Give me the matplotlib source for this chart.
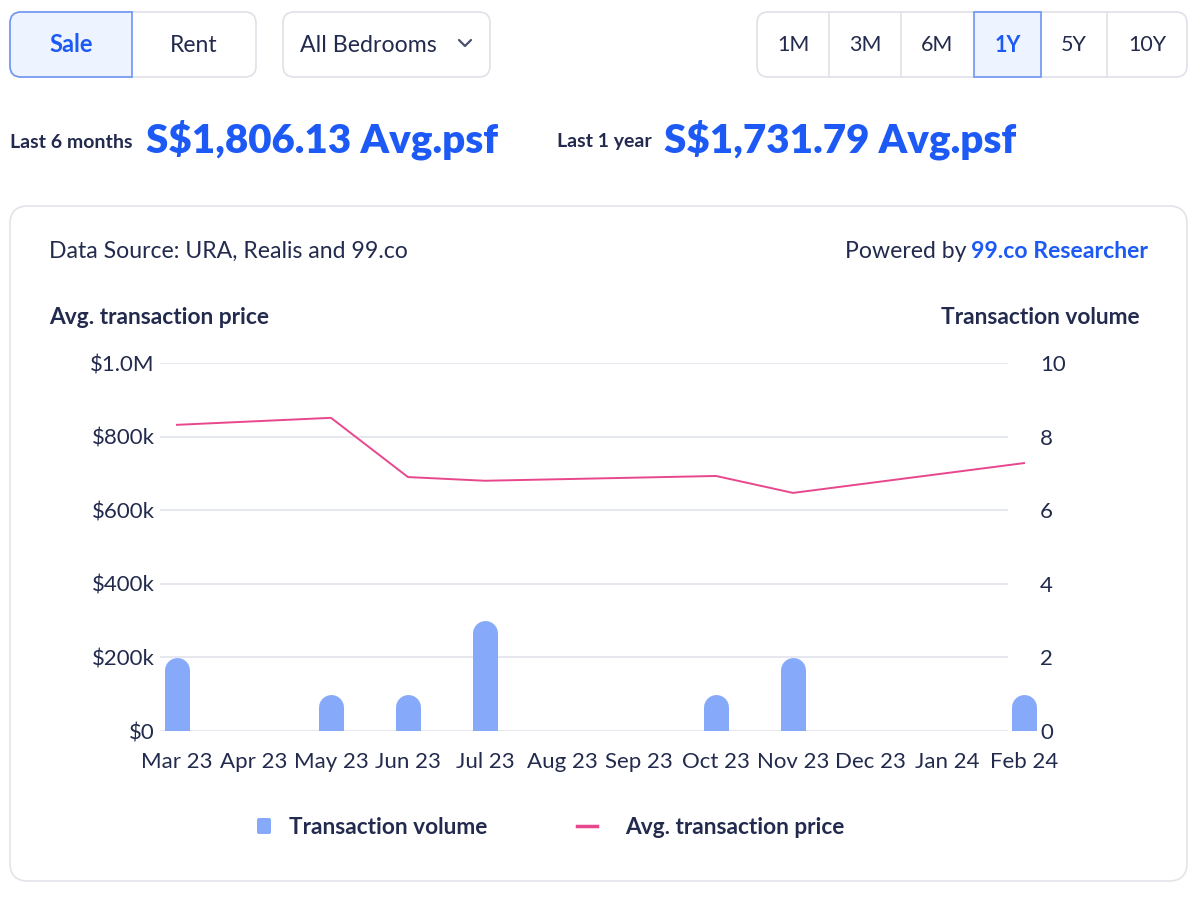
import numpy as np
import matplotlib.pyplot as plt
from matplotlib.patches import FancyBboxPatch, Rectangle

plt.rcParams['font.family'] = ['Lato', 'DejaVu Sans']

# data
months = ['Mar 23', 'Apr 23', 'May 23', 'Jun 23', 'Jul 23', 'Aug 23',
          'Sep 23', 'Oct 23', 'Nov 23', 'Dec 23', 'Jan 24', 'Feb 24']
volume = [2, 0, 1, 1, 3, 0, 0, 1, 2, 0, 0, 1]
price = [832000, np.nan, 851000, 690000, 680000, np.nan, np.nan,
         693000, 647000, np.nan, np.nan, 728000]
price_ticks = [0, 200000, 400000, 600000, 800000, 1000000]
price_labels = ['$0', '$200k', '$400k', '$600k', '$800k', '$1.0M']
vol_ticks = [0, 2, 4, 6, 8, 10]

NAVY = '#222a4d'
BLUE = '#1d5af5'
BAR = '#87a9fa'
PINK = '#e8478d'
GRID = '#e7e8ef'
BORDER = '#dfe1e8'

fig = plt.figure(figsize=(12, 9), dpi=100)
bg = fig.add_axes([0, 0, 1, 1])
bg.set_xlim(0, 1200)
bg.set_ylim(900, 0)
bg.axis('off')


def rbox(x0, y0, x1, y1, r, fc='white', ec=BORDER, lw=1.2, z=1):
    p = FancyBboxPatch((x0 + r, y0 + r), x1 - x0 - 2 * r, y1 - y0 - 2 * r,
                       boxstyle=f'round,pad={r}', fc=fc, ec=ec, lw=lw, zorder=z)
    bg.add_patch(p)
    return p


# Sale / Rent toggle
rbox(10, 12, 256, 77, 11)
sale = rbox(10, 12, 160, 77, 11, fc='#edf3ff', ec='#6e95f4', z=2)
sale.set_clip_path(Rectangle((0, 0), 132, 900, transform=bg.transData))
bg.plot([132, 132], [12, 77], color='#6e95f4', lw=1.2, zorder=3)
bg.text(71, 45, 'Sale', color=BLUE, fontsize=17, fontweight='bold', ha='center', va='center', zorder=4)
bg.text(194, 45, 'Rent', color=NAVY, fontsize=16.5, ha='center', va='center', zorder=4)

# bedrooms dropdown
rbox(283, 12, 490, 77, 11)
bg.text(300, 45, 'All Bedrooms', color=NAVY, fontsize=16.7, ha='left', va='center')
bg.plot([459, 465, 471], [40, 46, 40], color='#4a5070', lw=1.6, solid_capstyle='round')

# period selector
rbox(757, 12, 1187, 77, 11)
for xd in [829, 901, 1107]:
    bg.plot([xd, xd], [12, 77], color=BORDER, lw=1.2, zorder=2)
bg.add_patch(Rectangle((974, 12), 67, 65, fc='#edf3ff', ec='#6e95f4', lw=1.2, zorder=3))
periods = ['1M', '3M', '6M', '1Y', '5Y', '10Y']
pcent = [793, 865, 937, 1008, 1074, 1147]
for lab, cx in zip(periods, pcent):
    sel = lab == '1Y'
    bg.text(cx, 45, lab, color=BLUE if sel else NAVY, fontsize=15.5,
            fontweight='bold' if sel else 'normal', ha='center', va='center', zorder=4)

# headline numbers
bg.text(10, 142, 'Last 6 months', color=NAVY, fontsize=14, fontweight='bold', va='center')
bg.text(146, 140, 'S$1,806.13 Avg.psf', color=BLUE, fontsize=29, fontweight='heavy', va='center')
bg.text(557, 142, 'Last 1 year', color=NAVY, fontsize=14, fontweight='bold', va='center')
bg.text(664, 140, 'S$1,731.79 Avg.psf', color=BLUE, fontsize=29, fontweight='heavy', va='center')

# chart card
rbox(10, 206, 1187, 881, 18, ec='#e2e4ea')
bg.text(49, 251, 'Data Source: URA, Realis and 99.co', color=NAVY, fontsize=16.6, va='center')
bg.text(845, 251, 'Powered by', color=NAVY, fontsize=16.6, ha='left', va='center')
bg.text(1148, 251, '99.co Researcher', color=BLUE, fontsize=16.6, fontweight='bold', ha='right', va='center')
bg.text(49, 318, 'Avg. transaction price', color=NAVY, fontsize=16.4, fontweight='bold', va='center')
bg.text(1140, 318, 'Transaction volume', color=NAVY, fontsize=16.4, fontweight='bold', ha='right', va='center')

# legend
bg.add_patch(FancyBboxPatch((259, 820), 10, 12, boxstyle='round,pad=2', fc=BAR, ec='none'))
bg.text(289, 827, 'Transaction volume', color=NAVY, fontsize=16.3, fontweight='bold', va='center')
bg.plot([577, 597], [826, 826], color=PINK, lw=2.5)
bg.text(625, 827, 'Avg. transaction price', color=NAVY, fontsize=16.3, fontweight='bold', va='center')

# plot area: category i sits at 177 + 77*i px
x = np.arange(len(months))
x0, x1 = -17 / 77, 11.3
px_left = 160
px_right = 177 + 77 * x1
ax = fig.add_axes([px_left / 1200, 1 - 731 / 900, (px_right - px_left) / 1200, 368 / 900])
ax.patch.set_alpha(0)
ax.set_xlim(x0, x1)
ax.set_ylim(0, 1000000)
ax2 = ax.twinx()
ax2.set_ylim(0, 10)

grid_end = (1008 - 177) / 77
ax.hlines(price_ticks, x0, grid_end, color=GRID, lw=1.5, zorder=0)

# bars with rounded tops: thick round-capped strokes, the lower cap is clipped at zero
cap_r = 12.5 / 36.8
vol = np.array(volume, dtype=float)
has = vol > 0
ax2.vlines(x[has], 0, vol[has] - cap_r, colors=BAR, linewidth=18, capstyle='round', zorder=2)

pr = np.array(price, dtype=float)
ok = ~np.isnan(pr)
ax.plot(x[ok], pr[ok], color=PINK, lw=1.4, zorder=3)

ax.set_yticks(price_ticks)
ax.set_yticklabels(price_labels)
ax.set_xticks(x)
ax.set_xticklabels(months)
ax2.set_yticks(vol_ticks)
ax.tick_params(axis='y', length=0, pad=4, labelsize=16, labelcolor=NAVY)
ax.tick_params(axis='x', length=0, pad=15, labelsize=16, labelcolor=NAVY)
ax2.tick_params(axis='y', length=0, pad=-5, labelsize=16, labelcolor=NAVY)
for a in (ax, ax2):
    for s in a.spines.values():
        s.set_visible(False)

fig.savefig('out.png', dpi=100)
